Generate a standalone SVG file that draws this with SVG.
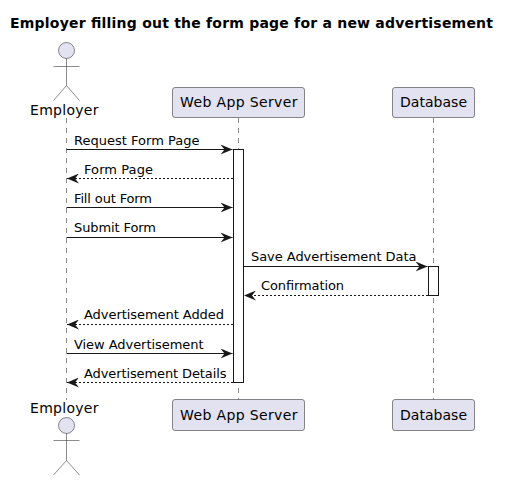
<svg xmlns="http://www.w3.org/2000/svg" width="510" height="480" viewBox="0 0 510 480">
<style>
text{font-family:"DejaVu Sans",sans-serif;fill:#000}
.t{font-size:14px;font-weight:bold}
.p{font-size:14px}
.m{font-size:13px}
.box{fill:#E2E2F0;stroke:#181818;stroke-width:.5}
.fig{fill:none;stroke:#181818;stroke-width:.5}
.head{fill:#E2E2F0;stroke:#181818;stroke-width:.5}
.life{stroke:#181818;stroke-width:.5;stroke-dasharray:5,5}
.act{fill:#fff;stroke:#181818;stroke-width:1}
.s{stroke:#181818;stroke-width:1;fill:none;marker-end:url(#a)}
.d{stroke:#181818;stroke-width:1;fill:none;stroke-dasharray:2,2;marker-end:url(#a)}
</style>
<defs><marker id="a" markerUnits="userSpaceOnUse" markerWidth="13" markerHeight="10" refX="12" refY="5" orient="auto"><path d="M0 0L12 5L0 10L4 5Z" fill="#181818"/></marker></defs>
<rect width="510" height="480" fill="#fff"/>
<text class="t" x="10" y="28" textLength="483" lengthAdjust="spacing">Employer filling out the form page for a new advertisement</text>
<g id="lifelines">
<line class="life" x1="66.5" y1="118" x2="66.5" y2="400"/>
<line class="life" x1="238.5" y1="118" x2="238.5" y2="400"/>
<line class="life" x1="433.5" y1="118" x2="433.5" y2="400"/>
</g>
<g id="employer-top">
<circle class="head" cx="66.5" cy="50.5" r="8"/>
<path class="fig" d="M66.5 58.5V85.5M53.5 66.5H79.5M53.5 100.5L66.5 85.5L79.5 100.5"/>
<text class="p" x="30" y="115" textLength="68.5">Employer</text>
</g>
<g id="webapp-top">
<rect class="box" x="172.5" y="87.5" width="132" height="30" rx="2.5"/>
<text class="p" x="180" y="107" textLength="117.5">Web App Server</text>
</g>
<g id="database-top">
<rect class="box" x="392.5" y="87.5" width="82" height="30" rx="2.5"/>
<text class="p" x="400" y="107" textLength="67">Database</text>
</g>
<g id="employer-bottom">
<text class="p" x="30" y="413" textLength="68.5">Employer</text>
<circle class="head" cx="66.5" cy="425.5" r="8"/>
<path class="fig" d="M66.5 433.5V460.5M53.5 440.5H79.5M53.5 475L66.5 460.5L79.5 475"/>
</g>
<g id="webapp-bottom">
<rect class="box" x="172.5" y="399.5" width="132" height="31" rx="2.5"/>
<text class="p" x="180" y="420" textLength="117.5">Web App Server</text>
</g>
<g id="database-bottom">
<rect class="box" x="392.5" y="399.5" width="82" height="31" rx="2.5"/>
<text class="p" x="400" y="420" textLength="67">Database</text>
</g>
<g id="activations">
<rect class="act" x="233.5" y="149.5" width="10" height="233"/>
<rect class="act" x="428.5" y="266.5" width="10" height="29"/>
</g>
<g id="connectors">
<line class="s" x1="66.5" y1="149.5" x2="232.5" y2="149.5"/>
<line class="d" x1="233" y1="178.5" x2="67" y2="178.5"/>
<line class="s" x1="66.5" y1="207.5" x2="232.5" y2="207.5"/>
<line class="s" x1="66.5" y1="237.5" x2="232.5" y2="237.5"/>
<line class="s" x1="243.5" y1="266.5" x2="427.5" y2="266.5"/>
<line class="d" x1="428" y1="295.5" x2="244" y2="295.5"/>
<line class="d" x1="233" y1="324.5" x2="67" y2="324.5"/>
<line class="s" x1="66.5" y1="353.5" x2="232.5" y2="353.5"/>
<line class="d" x1="233" y1="382.5" x2="67" y2="382.5"/>
</g>
<g id="labels">
<text class="m" x="74" y="145" textLength="125.5">Request Form Page</text>
<text class="m" x="84" y="174" textLength="69">Form Page</text>
<text class="m" x="74" y="203" textLength="78">Fill out Form</text>
<text class="m" x="74" y="232" textLength="82">Submit Form</text>
<text class="m" x="251" y="261" textLength="165.5">Save Advertisement Data</text>
<text class="m" x="261" y="290" textLength="83">Confirmation</text>
<text class="m" x="84" y="319" textLength="140">Advertisement Added</text>
<text class="m" x="74" y="349" textLength="129.5">View Advertisement</text>
<text class="m" x="84" y="378" textLength="142.5">Advertisement Details</text>
</g>
</svg>
